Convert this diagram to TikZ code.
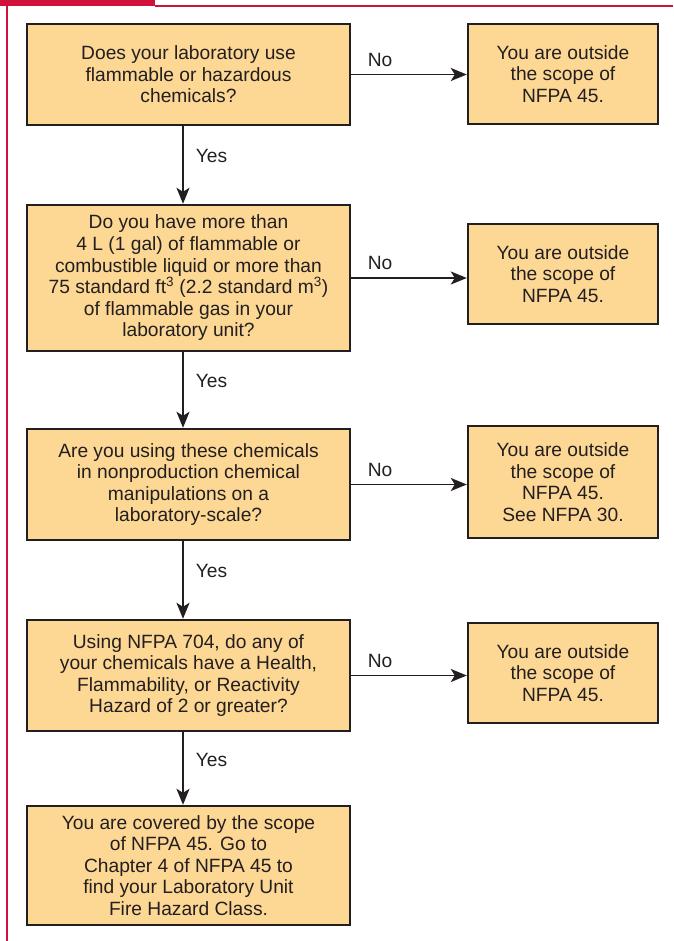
\documentclass[tikz,border=0pt]{standalone}
\usepackage{fontspec}
\setmainfont{Liberation Sans}
\usetikzlibrary{arrows.meta,calc}
\definecolor{boxfill}{RGB}{253,215,148}
\definecolor{ink}{RGB}{35,31,32}
\definecolor{nfpared}{RGB}{208,17,58}
\tikzset{
  qbox/.style={draw=ink, line width=2.4pt, fill=boxfill, text=ink, align=center,
    minimum width=323pt, inner sep=0pt, font=\fontsize{19.2}{21.6}\selectfont},
  rbox/.style={qbox, minimum width=190pt},
  flow/.style={draw=ink, line width=1.8pt, -{Stealth[length=16pt,width=13pt,inset=4pt]}},
  lbl/.style={text=ink, inner sep=0pt, font=\fontsize{19.2}{21.6}\selectfont},
}
\begin{document}
\begin{tikzpicture}[x=1pt,y=-1pt]
\useasboundingbox (0,0) rectangle (673,941);
% red frame
\fill[nfpared] (0,0) rectangle (155,6);
\fill[nfpared] (155,5) rectangle (673,7);
\fill[nfpared] (6,0) rectangle (8,941);
% left column
\node[qbox, minimum height=101pt] (b1) at (188.5,74.5) {Does your laboratory use\\flammable or hazardous\\chemicals?};
\node[qbox, minimum height=146pt] (b2) at (188.5,278) {Do you have more than\\4 L (1 gal) of flammable or\\combustible liquid or more than\\75 standard ft\textsuperscript{3} (2.2 standard m\textsuperscript{3})\\of flammable gas in your\\laboratory unit?};
\node[qbox, minimum height=111pt] (b3) at (188.5,484.5) {Are you using these chemicals\\in nonproduction chemical\\manipulations on a\\laboratory-scale?};
\node[qbox, minimum height=111pt] (b4) at (188.5,675.5) {Using NFPA 704, do any of\\your chemicals have a Health,\\Flammability, or Reactivity\\Hazard of 2 or greater?};
\node[qbox, minimum height=119pt] (b5) at (188.5,865.5) {You are covered by the scope\\of NFPA 45. Go to\\Chapter 4 of NFPA 45 to\\find your Laboratory Unit\\Fire Hazard Class.};
% right column
\node[rbox, minimum height=100pt] (r1) at (563,74) {You are outside\\the scope of\\NFPA 45.};
\node[rbox, minimum height=100pt] (r2) at (563,274) {You are outside\\the scope of\\NFPA 45.};
\node[rbox, minimum height=112pt] (r3) at (563,482) {You are outside\\the scope of\\NFPA 45.\\See NFPA 30.};
\node[rbox, minimum height=100pt] (r4) at (563,673) {You are outside\\the scope of\\NFPA 45.};
% yes arrows
\foreach \a/\b in {b1/b2,b2/b3,b3/b4,b4/b5}{
  \draw[flow] ([xshift=-5.5pt]\a.south) -- ([xshift=-5.5pt]\b.north)
    node[lbl, pos=0.38, anchor=west, xshift=12pt] {Yes};
}
% no arrows
\foreach \a/\b in {b1/r1,b2/r2,b3/r3,b4/r4}{
  \draw[flow] (\a.east) -- (\a.east -| \b.west)
    node[lbl, pos=0.25, anchor=south, yshift=7pt] {No};
}
\end{tikzpicture}
\end{document}
